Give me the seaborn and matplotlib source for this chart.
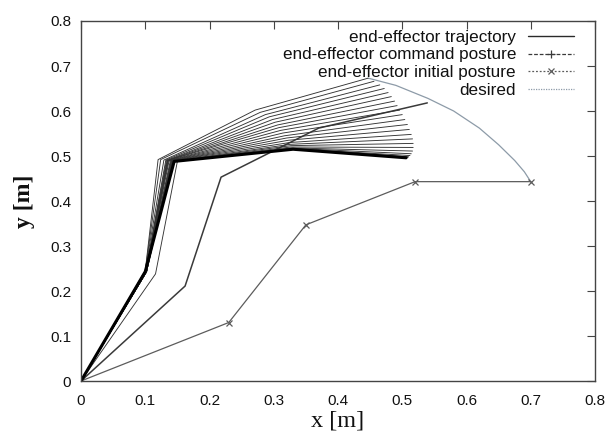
import numpy as np
import pandas as pd
import matplotlib
matplotlib.use("Agg")
import matplotlib.pyplot as plt
from matplotlib.lines import Line2D
import seaborn as sns

# ---------------- data ----------------
# trajectory postures: base -> joint1 -> joint2 -> joint3 -> end-effector
traj_j1x = [0.100, 0.100, 0.100, 0.101, 0.101, 0.101, 0.101, 0.102, 0.102, 0.102,
            0.102, 0.102, 0.102, 0.102, 0.102, 0.102, 0.101, 0.101, 0.101, 0.101,
            0.100, 0.100, 0.100, 0.116]
traj_j1y = [0.245, 0.245, 0.245, 0.244, 0.244, 0.244, 0.244, 0.243, 0.243, 0.243,
            0.243, 0.243, 0.243, 0.243, 0.243, 0.243, 0.243, 0.243, 0.243, 0.243,
            0.243, 0.243, 0.243, 0.238]
traj_j2x = [0.120, 0.124, 0.129, 0.132, 0.133, 0.134, 0.135, 0.135, 0.135, 0.136,
            0.137, 0.139, 0.140, 0.141, 0.141, 0.142, 0.141, 0.142, 0.143, 0.144,
            0.144, 0.145, 0.145, 0.150]
traj_j2y = [0.492, 0.492, 0.491, 0.491, 0.490, 0.490, 0.490, 0.490, 0.489, 0.489,
            0.489, 0.489, 0.489, 0.489, 0.488, 0.488, 0.488, 0.488, 0.488, 0.488,
            0.488, 0.488, 0.488, 0.488]
traj_j3x = [0.271, 0.279, 0.287, 0.293, 0.298, 0.302, 0.306, 0.308, 0.311, 0.314,
            0.317, 0.320, 0.323, 0.325, 0.326, 0.327, 0.327, 0.328, 0.329, 0.330,
            0.330, 0.330, 0.330, 0.333]
traj_j3y = [0.602, 0.597, 0.592, 0.587, 0.581, 0.575, 0.569, 0.563, 0.557, 0.551,
            0.545, 0.540, 0.535, 0.530, 0.526, 0.523, 0.520, 0.518, 0.517, 0.516,
            0.515, 0.515, 0.515, 0.516]
traj_eex = [0.447, 0.456, 0.465, 0.472, 0.478, 0.483, 0.488, 0.492, 0.496, 0.500,
            0.504, 0.508, 0.511, 0.514, 0.516, 0.517, 0.517, 0.516, 0.514, 0.512,
            0.510, 0.508, 0.506, 0.509]
traj_eey = [0.673, 0.666, 0.658, 0.650, 0.641, 0.632, 0.622, 0.612, 0.602, 0.592,
            0.581, 0.570, 0.559, 0.548, 0.538, 0.528, 0.519, 0.511, 0.505, 0.501,
            0.498, 0.497, 0.496, 0.498]

command_x = [0.0, 0.162, 0.218, 0.370, 0.539]
command_y = [0.0, 0.211, 0.453, 0.562, 0.618]

initial_x = [0.0, 0.230, 0.350, 0.520, 0.700]
initial_y = [0.0, 0.130, 0.347, 0.443, 0.443]

desired_x = [0.447, 0.490, 0.540, 0.580, 0.620, 0.650, 0.675, 0.690, 0.700]
desired_y = [0.673, 0.657, 0.628, 0.600, 0.562, 0.525, 0.490, 0.465, 0.443]

x_ticks = [0.0, 0.1, 0.2, 0.3, 0.4, 0.5, 0.6, 0.7, 0.8]
x_tick_labels = ["0", "0.1", "0.2", "0.3", "0.4", "0.5", "0.6", "0.7", "0.8"]
y_ticks = [0.0, 0.1, 0.2, 0.3, 0.4, 0.5, 0.6, 0.7, 0.8]
y_tick_labels = ["0", "0.1", "0.2", "0.3", "0.4", "0.5", "0.6", "0.7", "0.8"]

legend_labels = ["end-effector trajectory", "end-effector command posture",
                 "end-effector initial posture", "desired"]

# ---------------- build tables ----------------
rows = []
for i in range(len(traj_eex)):
    xs = [0.0, traj_j1x[i], traj_j2x[i], traj_j3x[i], traj_eex[i]]
    ys = [0.0, traj_j1y[i], traj_j2y[i], traj_j3y[i], traj_eey[i]]
    for k, (xx, yy) in enumerate(zip(xs, ys)):
        rows.append({"posture": i, "order": k, "x": xx, "y": yy})
traj = pd.DataFrame(rows)
final_idx = len(traj_eex) - 2
final = traj[traj["posture"] == final_idx]
cmd = pd.DataFrame({"x": command_x, "y": command_y})
ini = pd.DataFrame({"x": initial_x, "y": initial_y})
des = pd.DataFrame({"x": desired_x, "y": desired_y})

# ---------------- plot ----------------
sns.set_theme(style="white")
plt.rcParams["font.family"] = ["Liberation Sans", "DejaVu Sans"]

fig = plt.figure(figsize=(6.08, 4.36), dpi=100)
ax = fig.add_axes([81/608, 1 - 381/436, (595 - 81)/608, (381 - 21)/436])

des_col = "#8d9ba8"
sns.lineplot(data=des, x="x", y="y", sort=False, estimator=None, ax=ax,
             color=des_col, lw=0.9, legend=False)
sns.lineplot(data=ini, x="x", y="y", sort=False, estimator=None, ax=ax,
             color="#5c5c5c", lw=0.9, marker="x", markersize=5,
             markeredgewidth=0.9, markeredgecolor="#5c5c5c", legend=False)
sns.lineplot(data=cmd, x="x", y="y", sort=False, estimator=None, ax=ax,
             color="#3a3a3a", lw=1.1, legend=False)
sns.lineplot(data=traj, x="x", y="y", units="posture", sort=False, estimator=None,
             ax=ax, color="#333333", lw=0.65, legend=False)
sns.lineplot(data=final, x="x", y="y", sort=False, estimator=None, ax=ax,
             color="black", lw=2.2, legend=False)

ax.set_xlim(0, 0.8)
ax.set_ylim(0, 0.8)
ax.set_xticks(x_ticks)
ax.set_xticklabels(x_tick_labels)
ax.set_yticks(y_ticks)
ax.set_yticklabels(y_tick_labels)
ax.tick_params(direction="in", top=True, right=True, length=6, width=0.8,
               color="#444444", labelsize=11, labelcolor="#111111")
ax.tick_params(axis="x", pad=9)
ax.tick_params(axis="y", pad=7)
for s in ax.spines.values():
    s.set_color("#444444")
    s.set_linewidth(1.0)

ax.set_xlabel("x [m]", family=["Liberation Serif", "DejaVu Serif"], fontsize=17.5,
              labelpad=2, color="#111111")
ax.set_ylabel("y [m]", family=["Liberation Serif", "DejaVu Serif"], fontsize=17,
              labelpad=11, color="#111111", fontweight="bold")

handles = [
    Line2D([], [], color="#2a2a2a", lw=1.0),
    Line2D([], [], color="#3a3a3a", lw=0.9, ls=(0, (3, 1.5)), marker="+",
           markersize=6, markeredgewidth=0.9),
    Line2D([], [], color="#5c5c5c", lw=0.9, ls=(0, (1.5, 1.5)), marker="x",
           markersize=5, markeredgewidth=0.9),
    Line2D([], [], color=des_col, lw=0.9, ls=(0, (1, 1))),
]
leg = ax.legend(handles, legend_labels, loc="upper right",
                bbox_to_anchor=(0.9591, 0.976), frameon=False,
                markerfirst=False, fontsize=12.3, handlelength=2.69,
                handletextpad=0.70, labelspacing=0.167, borderaxespad=0.0,
                borderpad=0.0, numpoints=1)
for col in leg._legend_handle_box.get_children():
    col.align = "right"
for t in leg.get_texts():
    t.set_color("#111111")

fig.savefig("out.png", dpi=100)
